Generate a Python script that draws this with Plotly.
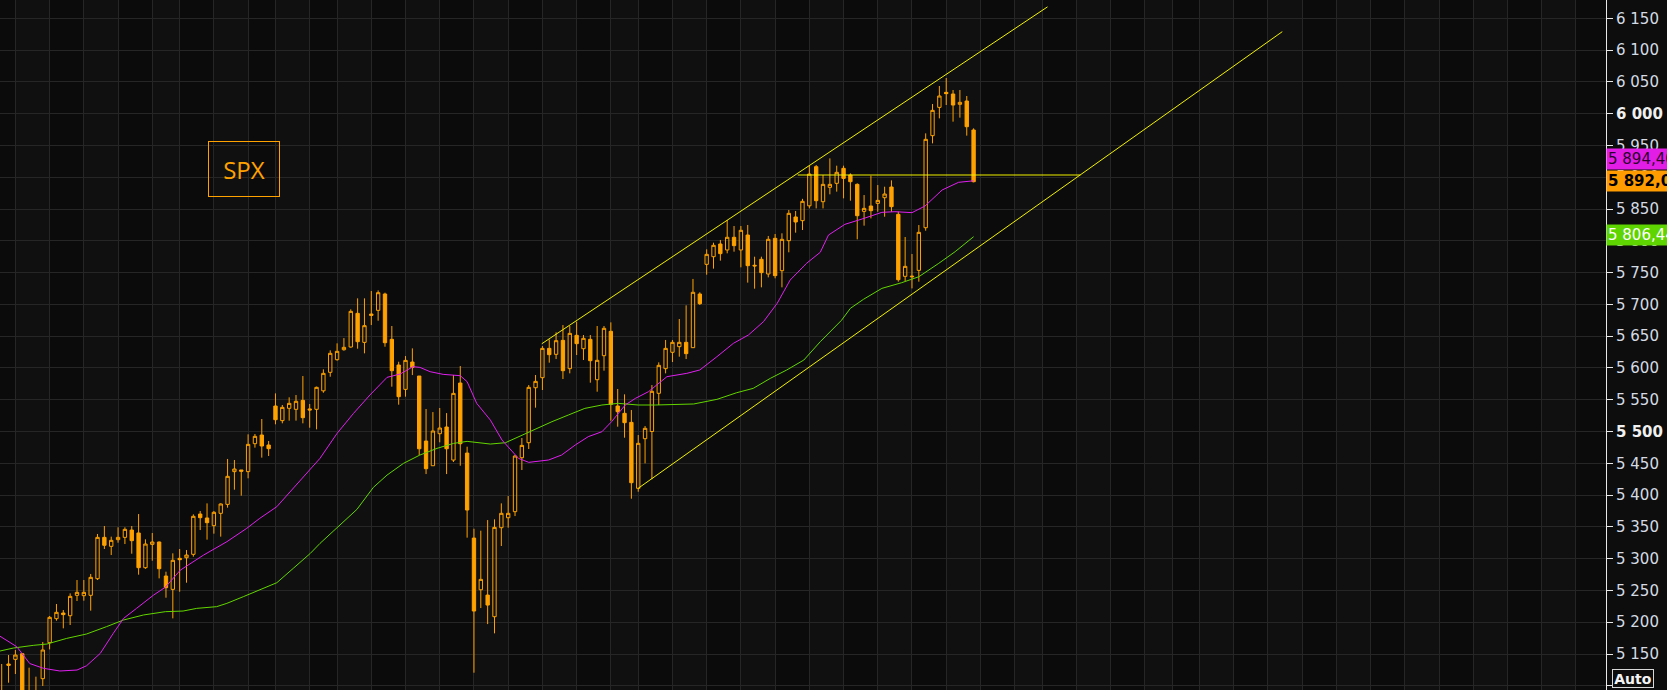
import plotly.graph_objects as go

# ---------------- data ----------------
OPEN = [5090, 5134.3, 5141.6, 5150.5, 5075, 5085, 5111.2, 5167.8, 5205.6, 5214.5,
        5210.3, 5242.3, 5241.8, 5242.3, 5268.5, 5333.5, 5319.4, 5329.9, 5333.5, 5345.0,
        5340.4, 5285.8, 5322.5, 5326.2, 5272.7, 5251.7, 5300.5, 5301.5, 5306.8, 5370.2,
        5364.0, 5351.9, 5371.3, 5385.4, 5436.9, 5439.5, 5436.9, 5480.9, 5494.5, 5478.8,
        5540.1, 5517.1, 5536.5, 5534.9, 5549.0, 5535.5, 5534.9, 5564.0, 5593.1, 5613.0,
        5628.7, 5632.9, 5685.9, 5640.2, 5684.8, 5690.6, 5716.3, 5645.0, 5604.6, 5566.3,
        5609.3, 5587.3, 5485.0, 5446.2, 5496.6, 5507.1, 5455.1, 5576.3, 5466.1, 5332.4,
        5251.1, 5242.7, 5208.7, 5348.7, 5364.4, 5373.9, 5458.8, 5482.4, 5568.9, 5584.7,
        5630.8, 5621.4, 5643.4, 5598.9, 5651.3, 5630.3, 5645.0, 5581.5, 5619.3, 5657.6,
        5540.1, 5528.6, 5514.4, 5410.6, 5488.7, 5500.0, 5560.1, 5598.9, 5624.6, 5633.5,
        5640.3, 5631.9, 5716.3, 5763.0, 5775.0, 5795.0, 5785.6, 5805.5, 5785.6, 5809.1,
        5761.5, 5770.9, 5747.8, 5803.9, 5753.0, 5800.2, 5837.5, 5831.7, 5855.0, 5916.6,
        5861.5, 5884.1, 5890.4, 5914.0, 5903.5, 5888.8, 5846.3, 5854.7, 5858.9, 5867.8,
        5884.6, 5841.6, 5744.1, 5744.5, 5753.5, 5820.6, 5965.4, 6009.9, 6033.5, 6030.9,
        6014.7, 6019.9, 5974.3]
HIGH = [5134.3, 5148.4, 5156.3, 5151.5, 5128.5, 5114.4, 5168.9, 5209.8, 5228.7, 5219.2,
        5245.4, 5266.4, 5266.4, 5275.9, 5338.8, 5351.4, 5334.6, 5349.3, 5349.3, 5351.4,
        5370.2, 5330.4, 5340.4, 5327.0, 5279.5, 5308.4, 5315.2, 5313.6, 5369.7, 5375.0,
        5387.0, 5375.0, 5387.0, 5456.8, 5455.2, 5439.5, 5495.6, 5496.1, 5519.7, 5485.1,
        5560.0, 5541.7, 5553.8, 5557.4, 5587.3, 5543.3, 5570.6, 5597.8, 5627.7, 5638.7,
        5647.0, 5692.2, 5709.5, 5709.5, 5721.0, 5722.0, 5718.4, 5666.0, 5609.8, 5618.7,
        5630.8, 5587.3, 5535.4, 5530.6, 5537.0, 5529.0, 5588.8, 5603.0, 5476.1, 5347.1,
        5344.0, 5360.7, 5361.8, 5387.0, 5398.5, 5463.0, 5489.8, 5573.1, 5588.9, 5634.5,
        5645.0, 5656.0, 5667.5, 5666.0, 5672.8, 5651.8, 5651.8, 5666.0, 5666.0, 5671.7,
        5566.9, 5558.5, 5533.8, 5494.5, 5508.6, 5573.1, 5608.8, 5644.0, 5644.0, 5677.0,
        5698.5, 5740.0, 5719.0, 5786.6, 5797.0, 5801.3, 5832.7, 5823.3, 5823.3, 5824.9,
        5775.0, 5775.0, 5807.6, 5810.7, 5811.8, 5848.5, 5846.9, 5866.0, 5918.0, 5919.2,
        5903.5, 5929.7, 5918.2, 5918.2, 5906.1, 5890.4, 5872.0, 5902.4, 5887.7, 5885.1,
        5895.1, 5845.8, 5806.0, 5779.2, 5824.8, 5969.0, 6015.2, 6043.5, 6056.1, 6037.2,
        6037.2, 6027.8, 5976.9]
LOW = [5060, 5104.9, 5118.5, 5060, 5060, 5070, 5099.7, 5157.3, 5202.4, 5190.4,
       5195.6, 5233.4, 5233.9, 5218.2, 5266.4, 5315.2, 5305.7, 5325.1, 5323.0, 5307.8,
       5274.8, 5284.0, 5296.8, 5269.0, 5238.6, 5206.1, 5248.0, 5262.2, 5303.1, 5345.0,
       5329.9, 5339.3, 5334.6, 5380.2, 5408.5, 5399.1, 5426.4, 5474.6, 5458.9, 5461.5,
       5511.3, 5512.9, 5517.1, 5517.1, 5512.9, 5506.0, 5503.4, 5561.0, 5586.2, 5611.4,
       5627.1, 5631.9, 5630.3, 5623.0, 5667.5, 5674.3, 5633.4, 5570.5, 5542.2, 5554.8,
       5588.8, 5463.0, 5433.1, 5446.2, 5483.0, 5433.1, 5452.0, 5446.2, 5333.0, 5120.6,
       5222.3, 5197.1, 5182.5, 5319.9, 5348.7, 5367.0, 5439.4, 5472.5, 5537.5, 5565.3,
       5608.3, 5614.0, 5582.6, 5591.5, 5620.3, 5612.5, 5576.8, 5562.6, 5595.7, 5517.0,
       5507.6, 5490.3, 5394.3, 5405.3, 5449.9, 5425.0, 5541.7, 5591.5, 5609.3, 5617.7,
       5614.0, 5631.9, 5699.0, 5746.7, 5756.2, 5768.8, 5780.3, 5782.9, 5758.3, 5734.2,
       5724.7, 5726.8, 5742.5, 5741.0, 5726.8, 5781.9, 5812.8, 5817.0, 5851.0, 5851.0,
       5851.0, 5873.1, 5877.3, 5866.8, 5863.1, 5802.3, 5823.8, 5835.3, 5845.8, 5837.9,
       5845.8, 5735.7, 5736.7, 5725.2, 5735.7, 5815.9, 5953.3, 5992.6, 6013.6, 5987.4,
       5993.7, 5965.4, 5892.0]
CLOSE = [5085, 5132.2, 5148.4, 5075, 5085, 5090, 5156.3, 5207.7, 5215.6, 5212.0,
         5240.7, 5247.0, 5247.0, 5270.6, 5333.5, 5321.0, 5328.8, 5333.5, 5346.1, 5328.3,
         5285.8, 5323.0, 5326.2, 5284.2, 5254.4, 5297.4, 5298.4, 5305.7, 5366.6, 5364.5,
         5356.6, 5372.9, 5386.0, 5429.5, 5441.0, 5437.5, 5479.8, 5492.4, 5477.2, 5473.0,
         5518.6, 5538.0, 5544.3, 5547.5, 5521.8, 5534.0, 5569.5, 5591.5, 5623.0, 5626.1,
         5632.4, 5689.0, 5641.3, 5666.5, 5682.7, 5718.4, 5639.7, 5595.7, 5554.8, 5611.9,
         5600.9, 5472.9, 5441.5, 5500.8, 5505.5, 5472.9, 5560.0, 5480.8, 5376.5, 5217.6,
         5267.4, 5227.0, 5349.2, 5371.3, 5371.3, 5461.4, 5478.2, 5569.5, 5578.9, 5630.8,
         5620.9, 5642.9, 5595.7, 5654.4, 5638.2, 5646.6, 5611.4, 5612.0, 5662.3, 5542.7,
         5531.2, 5513.9, 5419.5, 5481.4, 5505.0, 5563.2, 5604.1, 5630.8, 5640.3, 5640.3,
         5622.5, 5719.0, 5701.1, 5778.7, 5792.9, 5779.8, 5805.5, 5792.4, 5816.5, 5760.9,
         5760.5, 5749.9, 5802.3, 5745.2, 5802.3, 5843.2, 5829.6, 5862.1, 5905.0, 5863.1,
         5888.8, 5888.8, 5907.7, 5898.2, 5893.0, 5839.5, 5851.0, 5847.4, 5863.6, 5873.6,
         5853.7, 5738.8, 5759.8, 5743.5, 5813.3, 5959.6, 6005.2, 6027.8, 6031.5, 6013.6,
         6017.8, 5979.5, 5893.0]

# moving averages (x in bar units)
MA_FAST_X = [-0.25, 2.2, 4.1, 6.1, 8.5, 11.0, 12.4, 14.4, 16.3, 17.8, 19.7, 22.2, 23.9,
             26.1, 29.5, 32.9, 35.8, 37.7, 40.2, 42.6, 45.1, 46.5, 49.0, 51.4, 53.8,
             56.3, 58.2, 60.1, 61.1, 62.6, 64.5, 67.0, 68.0, 69.4, 71.4, 73.1, 75.5,
             77.0, 79.9, 81.8, 83.8, 85.7, 87.7, 89.1, 91.1, 92.6, 94.5, 95.5, 97.2,
             100.1, 102.0, 104.5, 106.9, 109.1, 111.3, 113.3, 115.2, 117.6, 119.6,
             120.8, 123.2, 125.7, 128.6, 130.5, 133.0, 134.9, 137.4, 139.8, 142.0]
MA_FAST_Y = [5178, 5161.5, 5135, 5127.5, 5123.3, 5124.8, 5131.6, 5151, 5182.5, 5206,
             5221.8, 5242.8, 5255, 5282, 5305.7, 5326.7, 5347.7, 5363.4, 5381.8, 5410.6,
             5439.5, 5457.8, 5497.1, 5528.5, 5557.4, 5585.2, 5590.4, 5602, 5600.9, 5594.1,
             5589.9, 5587.8, 5578.4, 5544.3, 5518, 5486.6, 5457.8, 5451.5, 5455.2, 5463,
             5478.8, 5491.9, 5499.7, 5515.4, 5541.7, 5552.2, 5562.7, 5571, 5586.3, 5591.5,
             5596.8, 5617.7, 5638.7, 5651.8, 5672.8, 5701.6, 5738.3, 5764.6, 5782,
             5809.1, 5825.9, 5834.3, 5844.8, 5845.8, 5844.3, 5854.7, 5879.9, 5892, 5894.4]
MA_SLOW_X = [-0.25, 1.7, 4.6, 6.6, 9.5, 12.4, 15.3, 17.8, 20.7, 23.9, 26.5, 28.5, 31.4,
             32.9, 35.3, 37.7, 40.2, 42.6, 45.1, 46.5, 49.4, 51.9, 54.3, 56.3, 58.7,
             61.1, 63.6, 66.0, 68.0, 71.4, 73.6, 75.5, 78.0, 80.4, 82.8, 85.2, 87.7,
             90.1, 93.0, 95.5, 101.1, 104.5, 107.4, 109.8, 112.3, 114.7, 117.2, 119.6,
             122.7, 124.0, 125.9, 128.6, 131.5, 134.0, 136.9, 139.3, 142.0]
MA_SLOW_Y = [5154.7, 5159.4, 5163.6, 5165.7, 5174.6, 5181.5, 5193, 5203.5, 5211.4,
             5216.6, 5217.6, 5221.8, 5224.5, 5229.7, 5240.2, 5250.7, 5262.2, 5284.8,
             5308.4, 5324, 5352.9, 5377.5, 5412.1, 5431.5, 5449.9, 5463, 5473.5, 5481.3,
             5484.5, 5480.3, 5482.4, 5491.9, 5503.4, 5515.5, 5526, 5536.4, 5541.7,
             5544.3, 5541.7, 5541.7, 5543.3, 5550.6, 5561.1, 5567.9, 5583.6, 5596.8,
             5612.5, 5641.3, 5675, 5693.8, 5707.9, 5725.2, 5734.1, 5743.5, 5764.5,
             5782.9, 5806.44]

# drawn lines (bar units, price)
UPPER_X, UPPER_Y = [78.9, 152.8], [5638.0, 6168.0]
LOWER_X, LOWER_Y = [93.0, 187.1], [5410.7, 6129.0]
HLINE_X, HLINE_Y = [116.3, 157.6], [5903.5, 5903.5]

# first bar of each week (vertical grid)
WEEK_STARTS = [-3, 2, 7, 12, 17, 22, 26, 31, 36, 40, 45, 49, 54, 59, 64, 69, 74, 79,
               84, 89, 93, 98, 103, 108, 113, 118, 123, 128, 133, 138, 143, 148, 152,
               157, 162, 167, 171, 175, 180, 185, 190, 195, 200, 205, 210, 215, 220,
               225, 230, 235]

Y_TICKS = list(range(5100, 6201, 50))
BOLD_TICKS = [5500, 6000]

LAST_FAST = 5894.40
LAST_CLOSE = 5892.0
LAST_SLOW = 5806.44

# ---------------- styling ----------------
ORANGE = "#ffa200"
BG_DARK = "#0b0b0b"
BG_LIGHT = "#101010"
GRID = "#262626"
FONT = "DejaVu Sans"

X_RANGE = [-0.25, 234.4]
Y_RANGE = [5093.4, 6178.8]


def fmt(v, dec=None):
    if dec is None:
        return f"{int(v):,}".replace(",", " ")
    s = f"{v:,.{dec}f}"
    return s.replace(",", " ").replace(".", ",")


fig = go.Figure()

fig.add_trace(go.Candlestick(
    x=list(range(len(OPEN))), open=OPEN, high=HIGH, low=LOW, close=CLOSE,
    increasing=dict(line=dict(color=ORANGE, width=1), fillcolor="rgba(0,0,0,0)"),
    decreasing=dict(line=dict(color=ORANGE, width=1), fillcolor=ORANGE),
    whiskerwidth=0, showlegend=False, hoverinfo="skip",
))

fig.add_trace(go.Scatter(x=MA_SLOW_X, y=MA_SLOW_Y, mode="lines",
                         line=dict(color="#62d600", width=1), showlegend=False, hoverinfo="skip"))
fig.add_trace(go.Scatter(x=MA_FAST_X, y=MA_FAST_Y, mode="lines",
                         line=dict(color="#e020f0", width=1), showlegend=False, hoverinfo="skip"))

for xs, ys in [(UPPER_X, UPPER_Y), (LOWER_X, LOWER_Y), (HLINE_X, HLINE_Y)]:
    fig.add_trace(go.Scatter(x=xs, y=ys, mode="lines",
                             line=dict(color="#f2f200", width=1),
                             showlegend=False, hoverinfo="skip"))

# alternating weekly bands
shapes = []
for k in range(len(WEEK_STARTS) - 1):
    if k % 2 == 1:
        shapes.append(dict(type="rect", xref="x", yref="paper",
                           x0=WEEK_STARTS[k], x1=WEEK_STARTS[k + 1], y0=0, y1=1,
                           fillcolor=BG_LIGHT, line=dict(width=0), layer="below"))

ticktext = []
for v in Y_TICKS:
    if v == 5100:
        ticktext.append("")
    elif v in BOLD_TICKS:
        ticktext.append(f"<b><span style='color:#f0f0f0'>{fmt(v)}</span></b>")
    else:
        ticktext.append(fmt(v))

annotations = [
    dict(xref="paper", yref="paper", x=244.3 / 1606, y=1 - 169.3 / 690,
         text="SPX", showarrow=False, xanchor="center", yanchor="middle",
         font=dict(family="Open Sans", size=24, color=ORANGE),
         width=70, height=54, borderpad=0, borderwidth=1, bordercolor=ORANGE,
         bgcolor="rgba(0,0,0,0)"),
    dict(xref="paper", yref="y", x=1, y=LAST_FAST, yshift=21.5,
         text=fmt(LAST_FAST, 2), showarrow=False, xanchor="left", yanchor="middle",
         font=dict(family=FONT, size=15, color="#2a002a"),
         bgcolor="#e21ee6", borderpad=1),
    dict(xref="paper", yref="y", x=1, y=LAST_CLOSE, yshift=1,
         text="<b>" + fmt(LAST_CLOSE, 2) + "</b>", showarrow=False, xanchor="left",
         yanchor="middle", font=dict(family=FONT, size=15, color="#000000"),
         bgcolor="#ff9c00", borderpad=1),
    dict(xref="paper", yref="y", x=1, y=LAST_SLOW, yshift=1.7,
         text=fmt(LAST_SLOW, 2), showarrow=False, xanchor="left", yanchor="middle",
         font=dict(family=FONT, size=15, color="#ffffff"),
         bgcolor="#5ed400", borderpad=1),
    dict(xref="paper", yref="paper", x=1633.3 / 1606, y=1 - 678 / 690,
         text="<b>Auto</b>", showarrow=False, xanchor="center", yanchor="middle",
         font=dict(family=FONT, size=14, color="#f4f4f4"),
         width=38, height=15, borderpad=1, borderwidth=1, bordercolor="#d8d8d8",
         bgcolor="#0d0d0d"),
]

fig.update_layout(
    width=1667, height=690,
    margin=dict(l=0, r=61, t=0, b=0, autoexpand=False),
    paper_bgcolor="#0d0d0d", plot_bgcolor=BG_DARK,
    font=dict(family=FONT, size=15, color="#d4dbe4"),
    shapes=shapes, annotations=annotations,
    showlegend=False, hovermode=False,
    xaxis=dict(range=X_RANGE, rangeslider=dict(visible=False),
               tickvals=WEEK_STARTS, showticklabels=False, ticks="",
               showgrid=True, gridcolor=GRID, gridwidth=1,
               zeroline=False, showline=False, fixedrange=True),
    yaxis=dict(range=Y_RANGE, side="right", tickvals=Y_TICKS, ticktext=ticktext,
               ticks="outside", ticklen=6, tickwidth=1, tickcolor="#e8e8e8",
               showline=True, linecolor="#e8e8e8", linewidth=1,
               showgrid=True, gridcolor=GRID, gridwidth=1, zeroline=False,
               tickfont=dict(family=FONT, size=15, color="#d4dbe4"),
               fixedrange=True),
)

fig.write_html(
    "out.html",
    config={"displayModeBar": False},
    post_script="document.body.style.margin='0px';document.body.style.overflow='hidden';"
                "document.body.style.background='#0d0d0d';",
)
